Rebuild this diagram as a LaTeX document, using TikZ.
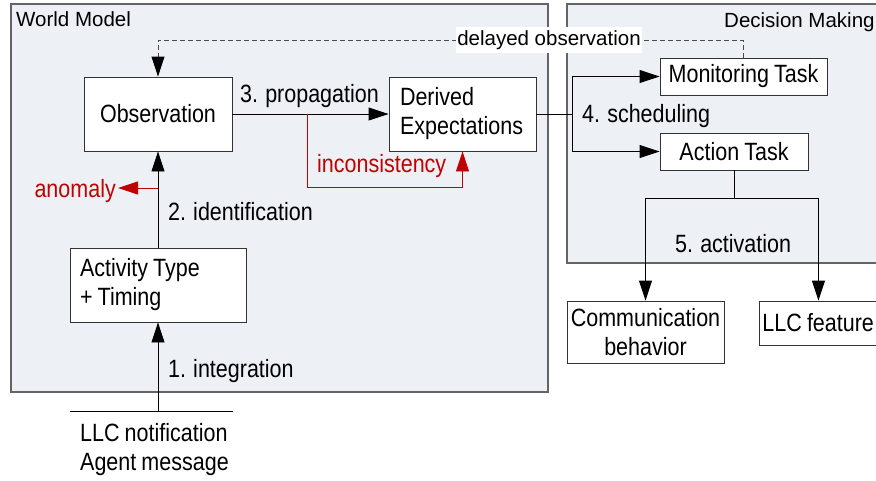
\documentclass[tikz,border=0pt]{standalone}
\usepackage{fontspec}
\setmainfont{Liberation Sans}
\newfontfamily\condfont[FakeStretch=0.86, WordSpace=0.86]{Liberation Sans}
\usepackage{tikz}
\usetikzlibrary{arrows.meta}
\definecolor{panelfill}{RGB}{237,240,245}
\definecolor{panelline}{RGB}{100,100,100}
\definecolor{warnred}{RGB}{192,0,0}
\newcommand{\boxfont}{\condfont\fontsize{25}{29}\selectfont}
\newcommand{\titlefont}{\fontsize{20.5}{24}\selectfont}

\begin{document}
\begin{tikzpicture}[
    x=1pt, y=-1pt,
    % 区域样式
    panel style/.style={
        draw=panelline,      % 灰色边框
        fill=panelfill,      % 浅灰蓝填充
        line width=1.3pt
    },
    % 方框样式
    box style/.style={
        draw=black!80,
        fill=white,
        line width=0.9pt,
        font=\boxfont,
        align=center,
        inner sep=0pt
    },
    % 文字标签
    label style/.style={
        font=\boxfont,
        inner sep=0pt,
        anchor=base west
    },
    % 箭头样式
    arrow style/.style={
        draw,
        line width=0.9pt,
        -{Triangle[length=20pt, width=13pt]}
    },
    line style/.style={draw, line width=0.9pt},
    red arrow style/.style={
        draw=warnred,
        line width=0.9pt,
        -{Triangle[length=20pt, width=13pt]}
    },
    % 虚线样式
    delay style/.style={
        draw=black!70,
        line width=0.9pt,
        dash pattern=on 5pt off 3pt,
        -{Triangle[length=20pt, width=13pt, black]}
    }
]
\useasboundingbox (0,0) rectangle (876,480);

% 两个区域
\draw[panel style] (11,4) rectangle (548,392);
\draw[panel style] (567,4) rectangle (885,263);
\node[anchor=base west, inner sep=0pt, font=\titlefont] (wm) at (16,26) {World Model};
\node[anchor=base west, inner sep=0pt, font=\titlefont] (dm) at (724,27) {Decision Making};

% 定义节点
\node[box style, minimum width=148pt, minimum height=74pt] (obs) at (158,114) {Observation};
\node[box style, text width=125pt, inner xsep=11pt, minimum height=74pt, align=flush left] (der) at (462.5,114) {Derived\\Expectations};
\node[box style, text width=156pt, inner xsep=10pt, minimum height=74pt, align=flush left] (typ) at (158,285) {Activity Type\\+ Timing};
\node[box style, minimum width=167pt, minimum height=37pt] (mon) at (743.5,76.5) {Monitoring Task};
\node[box style, minimum width=148pt, minimum height=37pt] (act) at (734,151.5) {Action Task};
\node[box style, minimum width=157pt, minimum height=62pt] (com) at (645.5,332) {Communication\\behavior};
\node[box style, anchor=west, text width=118pt, inner xsep=3pt, minimum height=44pt, align=flush left] (llc) at (759,323) {LLC feature};
\node[font=\boxfont, align=left, anchor=west, inner sep=0pt] (src) at (80,450) {LLC notification\\Agent message};

% 1. integration
\coordinate (srcL) at (70,411);
\coordinate (srcR) at (233,411);
\draw[line style] (srcL) -- (srcR);
\draw[arrow style] (typ.south |- srcL) -- (typ.south);
\node[label style] (integ) at (168,377) {1. integration};

% 2. identification
\draw[arrow style] (typ.north) -- (obs.south);
\node[label style] (ident) at (168,220) {2. identification};
\coordinate (anom) at (158,188);
\node[label style, anchor=base east, inner xsep=2pt, text=warnred] (anomaly) at (118,197) {anomaly};
\draw[red arrow style] (anom) -- (anom -| anomaly.east);

% 3. propagation
\draw[arrow style] (obs.east) -- (der.west);
\node[label style] (prop) at (240,102) {3. propagation};
\coordinate (incA) at (307,114);
\coordinate (incB) at (der.south |- 0,187);
\draw[red arrow style] (incA) |- (incB) -- (der.south);
\node[label style, text=warnred] (inc) at (317,172) {inconsistency};

% 延迟观测
\coordinate (dl) at (549,40);
\draw[delay style] (mon.north) |- (dl)
    node[fill=white, font=\titlefont, inner xsep=1pt, inner ysep=3pt] (dlabel) {delayed observation}
    -| (obs.north);

% 4. scheduling
\coordinate (sch) at (572,114);
\draw[line style] (der.east) -- (sch);
\draw[arrow style] (sch) |- (mon.west);
\draw[arrow style] (sch) |- (act.west);
\node[label style] (sched) at (582,122) {4. scheduling};

% 5. activation
\coordinate (fork) at (act.south |- 0,198);
\draw[line style] (act.south) -- (fork);
\draw[arrow style] (fork) -| (com.north);
\draw[arrow style] (fork) -| ([xshift=-3pt]llc.north);
\node[label style] (activ) at (675,252) {5. activation};

\end{tikzpicture}
\end{document}
